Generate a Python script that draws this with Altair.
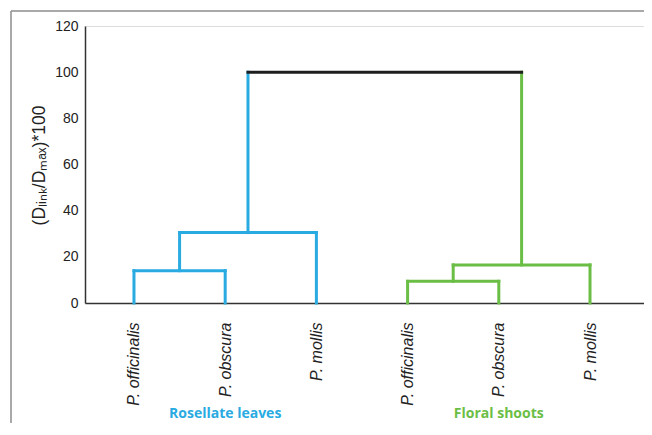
import json
import altair as alt
import pandas as pd

# ---- data ----
leaf_names = ["P. officinalis", "P. obscura", "P. mollis",
              "P. officinalis", "P. obscura", "P. mollis"]
leaf_group = ["Rosellate leaves"] * 3 + ["Floral shoots"] * 3
groups = ["Rosellate leaves", "Floral shoots"]
group_colors = ["#29ABE2", "#6BBE45"]
root_color = "#1E1E1E"

# merges: node ids 0-5 are leaves, merge k creates node 6+k
merge_left = [0, 6, 3, 8, 7]
merge_right = [1, 2, 4, 5, 9]
merge_height = [14, 30.5, 9.4, 16.5, 100]

y_ticks = [0, 20, 40, 60, 80, 100, 120]

# ---- build dendrogram segments ----
col = dict(zip(groups, group_colors))
n = len(leaf_names)
node_x = {i: float(i) for i in range(n)}
node_y = {i: 0.0 for i in range(n)}
node_c = {i: col[leaf_group[i]] for i in range(n)}
segs = []
for k, (a, b, h) in enumerate(zip(merge_left, merge_right, merge_height)):
    nid = n + k
    node_x[nid] = (node_x[a] + node_x[b]) / 2
    node_y[nid] = h
    node_c[nid] = node_c[a] if node_c[a] == node_c[b] else root_color
    for c in (a, b):
        segs.append(dict(x=node_x[c], x2=node_x[c], y=node_y[c], y2=h, c=node_c[c]))
    segs.append(dict(x=node_x[a], x2=node_x[b], y=h, y2=h, c=node_c[nid]))
seg_df = pd.DataFrame(segs)

grp_df = pd.DataFrame({
    "g": groups,
    "x": [sum(i for i in range(n) if leaf_group[i] == g) /
          sum(1 for i in range(n) if leaf_group[i] == g) for g in groups],
    "c": group_colors,
})

label_expr = json.dumps(leaf_names) + "[datum.value]"

xscale = alt.Scale(domain=[-0.537, 5.592], nice=False, zero=False)
yscale = alt.Scale(domain=[0, 120], nice=False)

lines = alt.Chart(seg_df).mark_rule(strokeWidth=3, strokeCap="square").encode(
    x=alt.X("x:Q", scale=xscale,
            axis=alt.Axis(values=list(range(n)), labelExpr=label_expr, title=None,
                          ticks=False, grid=False, labelAngle=-90, labelAlign="right",
                          labelBaseline="middle", labelPadding=19,
                          labelFont="Liberation Sans", labelFontStyle="italic",
                          labelFontSize=16, labelColor="#222",
                          domainColor="#333", domainWidth=1.5)),
    x2="x2:Q",
    y=alt.Y("y:Q", scale=yscale,
            axis=alt.Axis(values=y_ticks, ticks=False, grid=False, labelPadding=7,
                          labelFont="Liberation Sans", labelFontSize=14, labelColor="#222",
                          domainColor="#333", domainWidth=1.5,
                          title="(Dₗᵢₙₖ/Dₘₐₓ)*100", titleFont="Liberation Sans",
                          titleFontSize=17.5, titleFontWeight="normal", titleColor="#222",
                          titleAngle=-90, titleX=-41, titleY=139,
                          titleBaseline="alphabetic", titleAlign="center")),
    y2="y2:Q",
    color=alt.Color("c:N", scale=None),
)

grp_text = alt.Chart(grp_df).mark_text(
    font="Open Sans", fontWeight="bold", fontSize=14, baseline="alphabetic", align="center"
).encode(
    x=alt.X("x:Q", scale=xscale),
    y=alt.value(392),
    text="g:N",
    color=alt.Color("c:N", scale=None),
)

frame_left = alt.Chart(pd.DataFrame({"a": [0]})).mark_rule(color="#8C8C8C", strokeWidth=1.5).encode(
    x=alt.value(-74), y=alt.value(-15), y2=alt.value(420))
frame_top = alt.Chart(pd.DataFrame({"a": [0]})).mark_rule(color="#8C8C8C", strokeWidth=1.5).encode(
    x=alt.value(-74), x2=alt.value(600), y=alt.value(-15))

chart = alt.layer(frame_left, frame_top, lines, grp_text).properties(
    width=559, height=277,
    autosize=alt.AutoSizeParams(type="none"),
    padding={"left": 77, "top": 18, "right": 0, "bottom": 120},
).configure_view(stroke=None).configure(background="white")

chart.save("out.html", embed_options={"renderer": "svg", "actions": False})
